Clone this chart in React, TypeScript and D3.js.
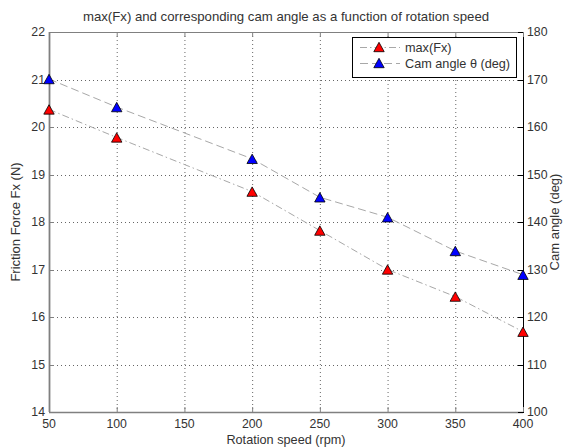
import React from "react";
import * as d3 from "d3";

const speeds = [50, 100, 200, 250, 300, 350, 400];
const maxFx = [20.37, 19.78, 18.64, 17.82, 17.0, 16.43, 15.69];
const camAngle = [170.1, 164.2, 153.3, 145.2, 141.0, 133.9, 128.9];
const xTicks = [50, 100, 150, 200, 250, 300, 350, 400];
const leftTicks = [14, 15, 16, 17, 18, 19, 20, 21, 22];
const rightTicks = [100, 110, 120, 130, 140, 150, 160, 170, 180];

const W = 569, H = 448;
const L = 49, R = 523, T = 32, B = 412;
const FONT = "'Liberation Sans', Arial, Helvetica, sans-serif";

function tri(cx: number, cy: number) {
  const w = 5.2, h = 9.4;
  return `M${cx},${cy - h / 2}L${cx + w},${cy + h / 2}L${cx - w},${cy + h / 2}Z`;
}

export default function App() {
  const x = d3.scaleLinear().domain([50, 400]).range([L, R]);
  const yL = d3.scaleLinear().domain([14, 22]).range([B, T]);
  const yR = d3.scaleLinear().domain([100, 180]).range([B, T]);
  const fxPts = speeds.map((s, i) => [x(s), yL(maxFx[i])] as [number, number]);
  const camPts = speeds.map((s, i) => [x(s), yR(camAngle[i])] as [number, number]);
  const line = d3.line();
  const gridColor = "#666";
  const lineColor = "#a8a8a8";
  const axisGray = "#808080";
  const txt = "#333";
  const tk = 5;
  return (
    <svg width={W} height={H} style={{ display: "block", position: "absolute", left: 0, top: 0, background: "#fff" }} fontFamily={FONT}>
      <rect x={0} y={0} width={W} height={H} fill="#fff" />
      {xTicks.slice(1, -1).map((t) => (
        <line key={"gx" + t} x1={x(t) + 0.5} x2={x(t) + 0.5} y1={T} y2={B} stroke={gridColor} strokeWidth={1} strokeDasharray="1,3" />
      ))}
      {leftTicks.slice(1, -1).map((t) => (
        <line key={"gy" + t} x1={L} x2={R} y1={Math.round(yL(t)) + 0.5} y2={Math.round(yL(t)) + 0.5} stroke={gridColor} strokeWidth={1} strokeDasharray="1,3" />
      ))}
      <line x1={L} x2={R} y1={T + 0.5} y2={T + 0.5} stroke={axisGray} strokeWidth={1.2} />
      <line x1={L} x2={R} y1={B + 0.5} y2={B + 0.5} stroke={axisGray} strokeWidth={1.5} />
      <line x1={L + 0.5} x2={L + 0.5} y1={T} y2={B} stroke={axisGray} strokeWidth={1.8} />
      <line x1={R + 0.5} x2={R + 0.5} y1={T} y2={B + 1} stroke="#000" strokeWidth={1} />
      {xTicks.map((t) => (
        <g key={"xt" + t}>
          <line x1={x(t) + 0.5} x2={x(t) + 0.5} y1={B} y2={B - tk} stroke={axisGray} />
          <line x1={x(t) + 0.5} x2={x(t) + 0.5} y1={T} y2={T + tk} stroke={axisGray} />
          <text x={x(t)} y={428} fontSize={12.3} textAnchor="middle" fill={txt}>{t}</text>
        </g>
      ))}
      {leftTicks.map((t) => (
        <g key={"lt" + t}>
          <line x1={L} x2={L + tk} y1={Math.round(yL(t)) + 0.5} y2={Math.round(yL(t)) + 0.5} stroke={axisGray} />
          <text x={L - 4} y={yL(t) + 4} fontSize={12.3} textAnchor="end" fill={txt}>{t}</text>
        </g>
      ))}
      {rightTicks.map((t) => (
        <g key={"rt" + t}>
          <line x1={R} x2={R - tk} y1={Math.round(yR(t)) + 0.5} y2={Math.round(yR(t)) + 0.5} stroke="#000" />
          <text x={R + 4} y={yR(t) + 4} fontSize={12.3} textAnchor="start" fill={txt}>{t}</text>
        </g>
      ))}
      <path d={line(fxPts) || ""} fill="none" stroke={lineColor} strokeWidth={1} strokeDasharray="7,3,1.5,3" />
      <path d={line(camPts) || ""} fill="none" stroke={lineColor} strokeWidth={1} strokeDasharray="8,4" />
      {fxPts.map(([px, py], i) => (
        <path key={"fm" + i} d={tri(px, py)} fill="#ff0000" stroke="#000" strokeWidth={0.8} />
      ))}
      {camPts.map(([px, py], i) => (
        <path key={"cm" + i} d={tri(px, py)} fill="#0000ff" stroke="#000" strokeWidth={0.8} />
      ))}
      <rect x={352.5} y={37.5} width={164} height={40} fill="#fff" stroke="#000" strokeWidth={1} />
      <line x1={360} x2={400} y1={47.5} y2={47.5} stroke={lineColor} strokeDasharray="7,3,1.5,3" />
      <path d={tri(379, 47)} fill="#ff0000" stroke="#000" strokeWidth={0.8} />
      <text x={405} y={52} fontSize={12.7} fill={txt}>max(Fx)</text>
      <line x1={360} x2={400} y1={63.5} y2={63.5} stroke={lineColor} strokeDasharray="8,4" />
      <path d={tri(379, 63)} fill="#0000ff" stroke="#000" strokeWidth={0.8} />
      <text x={405} y={68} fontSize={12.7} fill={txt}>Cam angle θ (deg)</text>
      <text x={(L + R) / 2} y={21} fontSize={13.2} textAnchor="middle" fill={txt}>max(Fx) and corresponding cam angle as a function of rotation speed</text>
      <text x={(L + R) / 2} y={444} fontSize={12.7} textAnchor="middle" fill={txt}>Rotation speed (rpm)</text>
      <text transform={`translate(20,${(T + B) / 2}) rotate(-90)`} fontSize={13} textAnchor="middle" fill={txt}>Friction Force Fx (N)</text>
      <text transform={`translate(559,${(T + B) / 2}) rotate(-90)`} fontSize={13} textAnchor="middle" fill={txt}>Cam angle (deg)</text>
    </svg>
  );
}
